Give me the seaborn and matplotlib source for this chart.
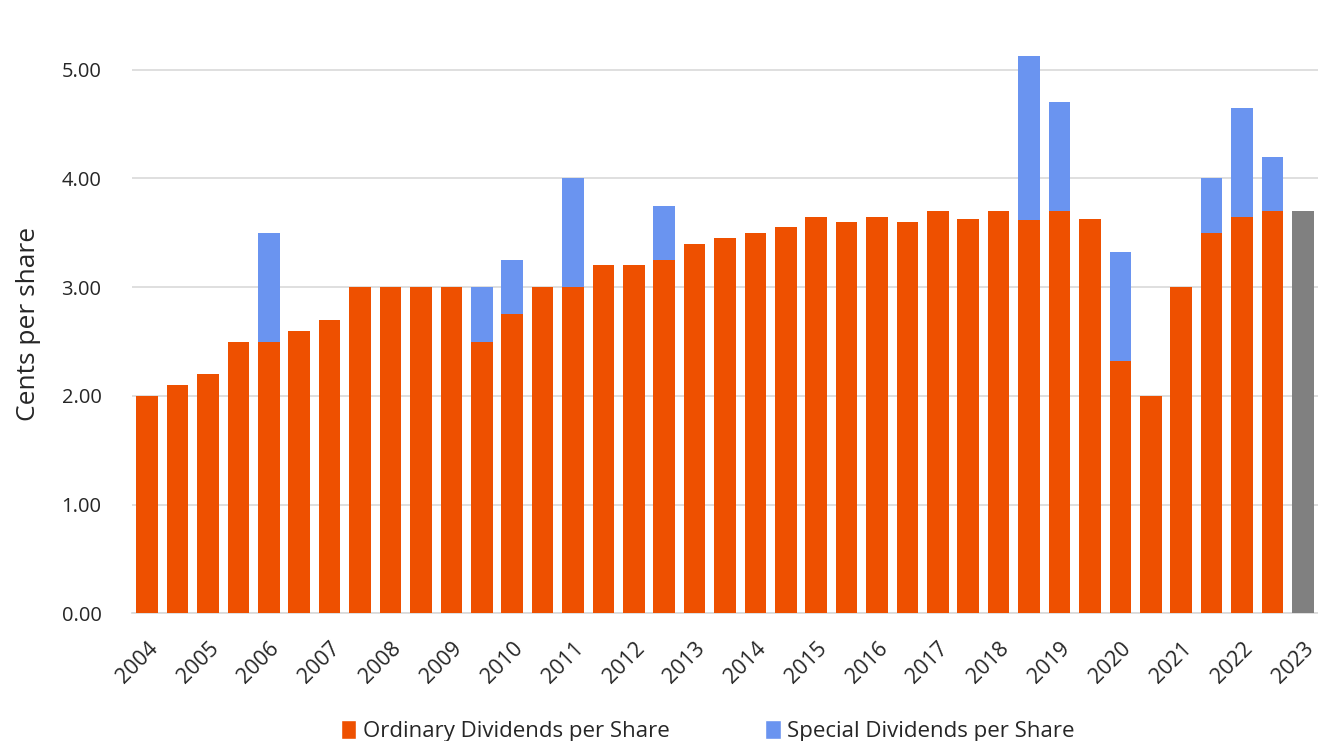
import numpy as np
import pandas as pd
import seaborn as sns
import matplotlib.pyplot as plt
from matplotlib.patches import Patch

# Half-yearly dividends, cents per share (interim / final), 2004 to 2023 interim
years = [str(y) for y in range(2004, 2024)]
ordinary = [2.00, 2.10, 2.20, 2.50, 2.50, 2.60, 2.70, 3.00, 3.00, 3.00,
            3.00, 2.50, 2.75, 3.00, 3.00, 3.20, 3.20, 3.25, 3.40, 3.45,
            3.50, 3.55, 3.65, 3.60, 3.65, 3.60, 3.70, 3.63, 3.70, 3.62,
            3.70, 3.63, 2.32, 2.00, 3.00, 3.50, 3.65, 3.70, 3.70]
special = [0.00, 0.00, 0.00, 0.00, 1.00, 0.00, 0.00, 0.00, 0.00, 0.00,
           0.00, 0.50, 0.50, 0.00, 1.00, 0.00, 0.00, 0.50, 0.00, 0.00,
           0.00, 0.00, 0.00, 0.00, 0.00, 0.00, 0.00, 0.00, 0.00, 1.51,
           1.00, 0.00, 1.00, 0.00, 0.00, 0.50, 1.00, 0.50, 0.00]
status = ["paid"] * 38 + ["forecast"]

ORANGE = "#EE5000"
BLUE = "#6A94F0"
GREY = "#808080"
TEXT = "#262626"

periods = []
for i in range(len(ordinary)):
    periods.append(f"{2004 + i // 2} {'H1' if i % 2 == 0 else 'H2'}")

df = pd.DataFrame({
    "period": periods,
    "ordinary": ordinary,
    "special": special,
    "status": status,
})
df["total"] = df["ordinary"] + df["special"]

sns.set_theme(style="white")
plt.rcParams["font.family"] = ["Open Sans", "DejaVu Sans"]

fig = plt.figure(figsize=(13.18, 7.41), dpi=100)
ax = fig.add_axes([132 / 1318, 1 - 613.3 / 741, 1 - 132 / 1318, 613.3 / 741])

# total height first (special on top), then ordinary drawn over it
sns.barplot(data=df, x="period", y="total", hue="status",
            palette={"paid": BLUE, "forecast": GREY}, dodge=False,
            width=0.71, saturation=1, linewidth=0, legend=False, ax=ax,
            order=periods, zorder=2)
sns.barplot(data=df, x="period", y="ordinary", hue="status",
            palette={"paid": ORANGE, "forecast": GREY}, dodge=False,
            width=0.71, saturation=1, linewidth=0, legend=False, ax=ax,
            order=periods, zorder=3)

ax.set_xlim(-0.5, len(periods) - 0.5)
ax.set_ylim(0, 5.642)
ax.set_yticks([0, 1, 2, 3, 4, 5])
ax.set_yticklabels([f"{v:.2f}" for v in [0, 1, 2, 3, 4, 5]],
                   fontsize=14.5, color=TEXT)
ax.yaxis.grid(True, color="#D9D9D9", linewidth=1.2, zorder=0)
ax.set_axisbelow(True)
for side in ["left", "right", "top"]:
    ax.spines[side].set_visible(False)
ax.spines["bottom"].set_color("#D9D9D9")
ax.spines["bottom"].set_linewidth(1.2)
ax.tick_params(axis="y", length=0, pad=22)
ax.tick_params(axis="x", length=0, pad=18)

ax.set_xticks(range(0, len(periods), 2))
ax.set_xticklabels(years, rotation=45, ha="right", rotation_mode="anchor",
                   fontsize=15.5, color=TEXT)
ax.set_xlabel("")
ax.set_ylabel("Cents per share", fontsize=19, color=TEXT)
ax.yaxis.set_label_coords(-0.077, 0.472)

handles = [Patch(facecolor=ORANGE, label="Ordinary Dividends per Share"),
           Patch(facecolor=BLUE, label="Special Dividends per Share")]
fig.legend(handles=handles, loc="center", bbox_to_anchor=(0.537, 0.013),
           ncol=2, frameon=False, fontsize=16, handlelength=0.7,
           handleheight=0.9, handletextpad=0.3, columnspacing=4.3,
           labelcolor=TEXT)

fig.savefig("out.png", dpi=100)
